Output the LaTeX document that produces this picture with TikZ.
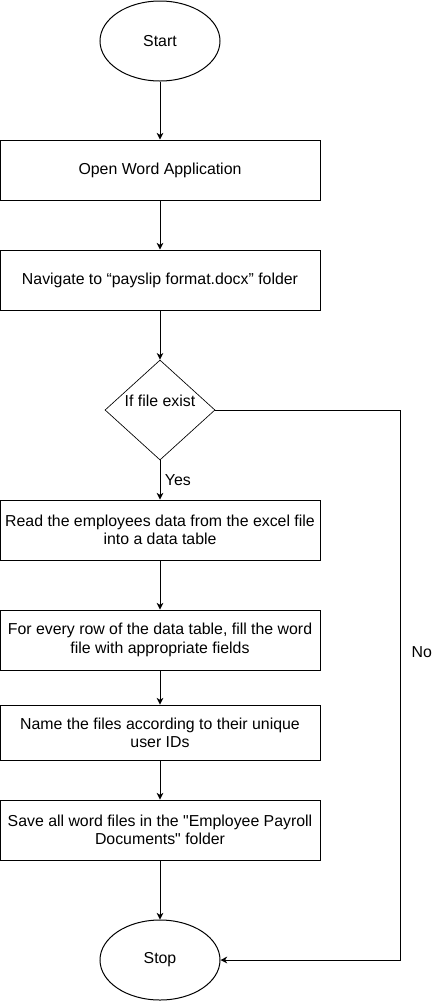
\documentclass[tikz,border=0pt]{standalone}
\usepackage{fontspec}
\setmainfont{Liberation Sans}[Ligatures=TeXOff]
\usetikzlibrary{shapes.geometric, arrows.meta}
\begin{document}
\begin{tikzpicture}[x=0.75pt, y=-0.75pt, >={Stealth[length=5pt, width=5pt, inset=1.5pt]},
    txt/.style={font=\fontsize{11.9pt}{13.75pt}\selectfont},
    flow/.style={->, line width=0.75pt},
    process/.style={draw, line width=0.75pt, rectangle, minimum width=240pt, minimum height=45pt, align=center, inner sep=2pt, txt},
    terminal/.style={draw, line width=0.75pt, ellipse, minimum width=90pt, minimum height=60pt, inner sep=0pt, txt},
    decision/.style={draw, line width=0.5pt, diamond, minimum width=82.5pt, minimum height=75pt, inner sep=0pt}]
        \useasboundingbox (0,0) rectangle (441,1001);

        % Nodes
        \node[terminal] (start) at (160,41) {Start};
        \node[process] (openword) at (160,170) {Open Word Application};
        \node[process] (navigate) at (160,280) {Navigate to “payslip format.docx” folder};
        \node[decision] (exists) at (160,410) {};
        \node[txt] (existstext) at (160,401) {If file exist};
        \node[process] (readdata) at (160,530) {Read the employees data from the excel file\\into a data table};
        \node[process] (fillword) at (160,640) {For every row of the data table, fill the word\\file with appropriate fields};
        \node[process, minimum height=41.25pt] (namefiles) at (160,732.5) {Name the files according to their unique\\user IDs};
        \node[process] (savefiles) at (160,830) {Save all word files in the "Employee Payroll\\Documents" folder};
        \node[terminal] (stop) at (160,960) {Stop};

        % Connectors
        \draw[flow] (start) -- (openword);
        \draw[flow] (openword) -- (navigate);
        \draw[flow] (navigate) -- (exists);
        \draw[flow] (exists) -- node[right, txt] (yes) {Yes} (readdata);
        \draw[flow] (readdata) -- (fillword);
        \draw[flow] (fillword) -- (namefiles);
        \draw[flow] (namefiles) -- (savefiles);
        \draw[flow] (savefiles) -- (stop);

        % No branch
        \coordinate (noright) at (400,410);
        \draw[flow] (exists.east) -- (noright) |- node[pos=0.22, right=5pt, txt] (no) {No} (stop.east);
\end{tikzpicture}
\end{document}
